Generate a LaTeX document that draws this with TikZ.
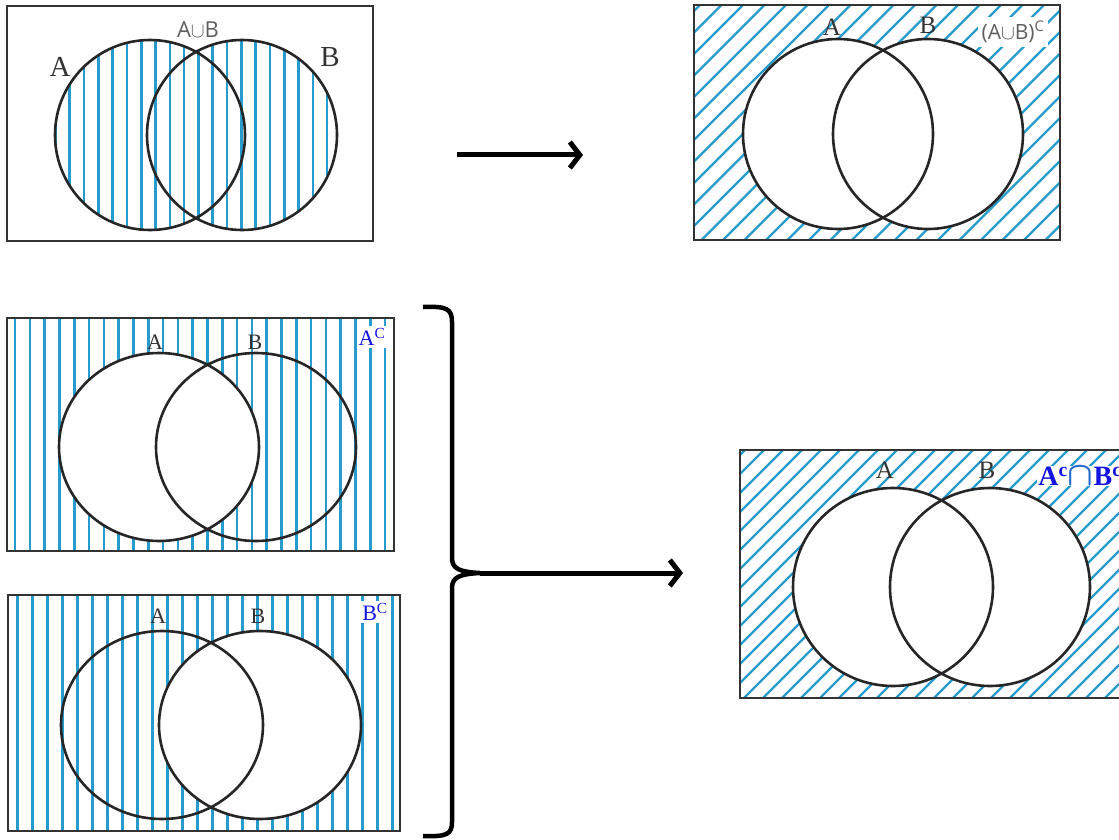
\documentclass[tikz,border=0pt]{standalone}
\usepackage{fontspec}
\setmainfont{Liberation Serif}
\newfontfamily\labsans{Open Sans}
\usetikzlibrary{arrows.meta}
\definecolor{hatchblue}{RGB}{40,155,205}
\definecolor{setblue}{RGB}{20,20,225}
\definecolor{capblue}{RGB}{35,105,205}
\definecolor{labgray}{RGB}{95,95,95}

\begin{document}
\begin{tikzpicture}[x=1pt,y=-1pt,
  hatch/.style={hatchblue,line width=2.6pt},
  slant/.style={hatchblue,line width=2.3pt},
  setline/.style={black!85,line width=2.6pt},
  boxline/.style={black!80,line width=2.8pt},
  setlab/.style={text=black!80,inner sep=0pt,font=\fontsize{#1}{#1}\selectfont},
  complab/.style={text=setblue,fill=white,inner sep=2pt,font=\fontsize{#1}{#1}\selectfont},
  bigarrow/.style={line width=5pt,-{Straight Barb[length=10pt,width=26pt]}}]
\useasboundingbox (0,0) rectangle (1119,840);
\begin{scope}
\clip (150,135) circle[radius=95] (242,135) circle[radius=95];
\foreach \x in {12.5,26.8,...,372} \draw[hatch] (\x,6) -- (\x,241);
\end{scope}
\draw[boxline] (7,6) rectangle (373,241);
\draw[setline] (150,135) circle[radius=95] (242,135) circle[radius=95];
\node[setlab=29] (ua) at (60,67) {A};
\node[setlab=29] (ub) at (330,57) {B};
\node[text=labgray,inner sep=0pt,font=\labsans\fontsize{22}{22}\selectfont] (unionlab) at (198,30) {A$\cup$B};
\begin{scope}
\clip (694,5) rectangle (1060,240);
\foreach \c in {700,721.5,...,1310} \draw[slant] (\c,5) -- ++(-240,240);
\end{scope}
\fill[white] (838,134) circle[radius=95] (928,134) circle[radius=95];
\draw[boxline] (694,5) rectangle (1060,240);
\draw[setline] (838,134) circle[radius=95] (928,134) circle[radius=95];
\node[setlab=25] (ca) at (832,27) {A};
\node[setlab=25] (cb) at (928,25) {B};
\node[text=labgray,fill=white,inner sep=4pt,font=\labsans\fontsize{21}{21}\selectfont] (complunion) at (1013,32) {(A$\cup$B)\textsuperscript{C}};
\foreach \x in {15,29.8,...,392} \draw[hatch] (\x,318) -- (\x,551);
\fill[white] (159,447) ellipse[x radius=100,y radius=94];
\draw[boxline] (7,318) rectangle (394,551);
\draw[setline] (159,447) ellipse[x radius=100,y radius=94] (256,447) ellipse[x radius=100,y radius=94];
\node[setlab=22] (aa) at (155,342) {A};
\node[setlab=22] (ab) at (255,342) {B};
\node[complab=22] (acomp) at (372,337) {A\textsuperscript{C}};
\foreach \x in {17.7,32.7,...,397} \draw[hatch] (\x,595) -- (\x,831);
\fill[white] (260,725) ellipse[x radius=101,y radius=94];
\draw[boxline] (8,595) rectangle (400,831);
\draw[setline] (162,725) ellipse[x radius=101,y radius=94] (260,725) ellipse[x radius=101,y radius=94];
\node[setlab=22] (ba) at (158,616) {A};
\node[setlab=22] (bb) at (258,616) {B};
\node[complab=22] (bcomp) at (375,612) {B\textsuperscript{C}};
\begin{scope}
\clip (740,450) rectangle (1125,698);
\foreach \c in {745,764,...,1390} \draw[slant] (\c,450) -- ++(-248,248);
\end{scope}
\fill[white] (893,587) ellipse[x radius=100,y radius=99] (990,587) ellipse[x radius=100,y radius=99];
\draw[boxline] (740,450) rectangle (1125,698);
\draw[setline] (893,587) ellipse[x radius=100,y radius=99] (990,587) ellipse[x radius=100,y radius=99];
\node[setlab=25] (ia) at (885,470) {A};
\node[setlab=25] (ib) at (987,470) {B};
\node[complab=28,inner sep=1pt,font=\bfseries\fontsize{28}{28}\selectfont] (intercomp) at (1080,476) {A\textsuperscript{c}\textcolor{capblue}{\scalebox{1.35}{\boldmath$\cap$}}B\textsuperscript{c}};
\coordinate (toptail) at (457,155);
\coordinate (tophead) at (583,155);
\draw[bigarrow] (toptail) -- (tophead);
\coordinate (bracetop) at (423,307);
\coordinate (bracebot) at (423,836);
\coordinate (bracetip) at (480,573);
\coordinate (bothead) at (683,573);
\draw[line width=4.5pt] (bracetop) .. controls (447,306) and (452,309) .. (452,322) -- (452,558) .. controls (452,569) and (460,572) .. (bracetip) .. controls (460,574) and (452,577) .. (452,588) -- (452,822) .. controls (452,834) and (447,837) .. (bracebot);
\draw[bigarrow] (bracetip) -- (bothead);
\end{tikzpicture}
\end{document}
